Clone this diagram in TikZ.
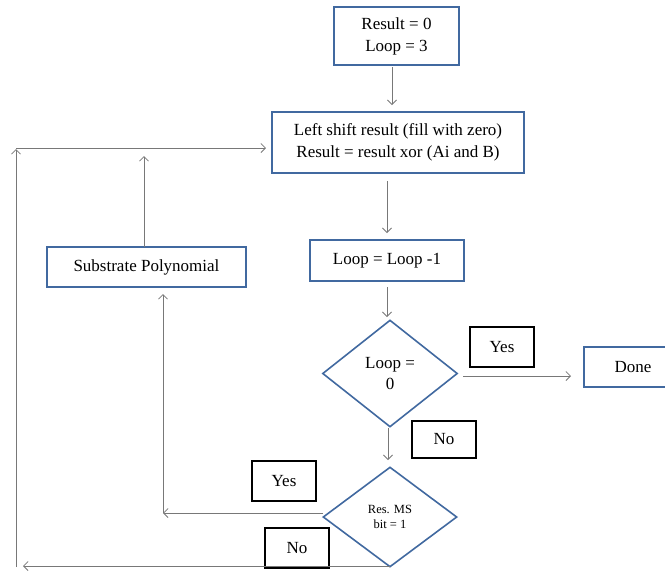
\documentclass[tikz,border=0pt]{standalone}
\usepackage{fontspec}
\setmainfont{Liberation Serif}
\usetikzlibrary{shapes.geometric,arrows.meta}
\definecolor{boxblue}{RGB}{65,105,160}
\definecolor{linegray}{RGB}{120,120,120}
\tikzset{
  bluebox/.style={draw=boxblue,line width=1.6pt,fill=white,inner sep=0pt,align=center,font=\fontsize{17}{22}\selectfont},
  labelbox/.style={draw=black,line width=1.6pt,fill=white,inner sep=0pt,minimum width=64pt,minimum height=40pt,font=\fontsize{17}{20}\selectfont},
  decision/.style={diamond,draw=boxblue,line width=1.6pt,fill=white,inner sep=0pt,align=center},
  conn/.style={draw=linegray,line width=0.8pt,-{Straight Barb[length=4.5pt,width=9pt]}}
}
\begin{document}
\begin{tikzpicture}[x=1pt,y=-1pt]
\useasboundingbox (0,0) rectangle (665,571);
% nodes
\node[bluebox,minimum width=125pt,minimum height=58pt] (init) at (396.5,36) {Result = 0\\Loop = 3};
\node[bluebox,minimum width=252pt,minimum height=61pt] (shift) at (398,142.5) {Left shift result (fill with zero)\\Result = result xor (Ai and B)};
\node[bluebox,minimum width=199pt,minimum height=40pt] (sub) at (146.5,267) {Substrate Polynomial};
\node[bluebox,minimum width=154pt,minimum height=41pt] (dec) at (387,260.5) {Loop = Loop -1};
\node[decision,minimum width=135pt,minimum height=107pt,font=\fontsize{17}{21}\selectfont] (d1) at (390,373.5) {Loop =\\0};
\node[decision,minimum width=134pt,minimum height=100pt,font=\fontsize{12.5}{15}\selectfont] (d2) at (390,517) {Res. MS\\bit = 1};
\node[bluebox,minimum width=98pt,minimum height=40pt] (done) at (633,367) {Done};
\node[labelbox] (yes1) at (502,347) {Yes};
\node[labelbox,minimum height=37pt] (no1) at (444,439.5) {No};
\node[labelbox] (yes2) at (284,481) {Yes};
\node[labelbox] (no2) at (297,548) {No};
% helper coordinates
\coordinate (a1s) at (392,67);
\coordinate (a1e) at (392,105);
\coordinate (a2s) at (387,181);
\coordinate (a2e) at (387,233);
\coordinate (a3s) at (387,287);
\coordinate (a3e) at (387,317);
\coordinate (a4s) at (388,428);
\coordinate (a4e) at (388,460);
\coordinate (a5s) at (463,376);
\coordinate (a5e) at (571,376);
\coordinate (ys) at (323,513);
\coordinate (ye) at (163,513);
\coordinate (ub) at (163,513);
\coordinate (ut) at (163,294);
\coordinate (ss) at (144,247);
\coordinate (se) at (144,156);
\coordinate (ns) at (390,566);
\coordinate (ne) at (23,566);
\coordinate (lb) at (16,567);
\coordinate (lt) at (16,149);
\coordinate (hs) at (16,148);
\coordinate (he) at (266,148);
% connectors
\draw[conn] (a1s) -- (a1e);
\draw[conn] (a2s) -- (a2e);
\draw[conn] (a3s) -- (a3e);
\draw[conn] (a4s) -- (a4e);
\draw[conn] (a5s) -- (a5e);
\draw[conn] (ys) -- (ye);
\draw[conn] (ub) -- (ut);
\draw[conn] (ss) -- (se);
\draw[conn] (ns) -- (ne);
\draw[conn] (lb) -- (lt);
\draw[conn] (hs) -- (he);
\end{tikzpicture}
\end{document}
